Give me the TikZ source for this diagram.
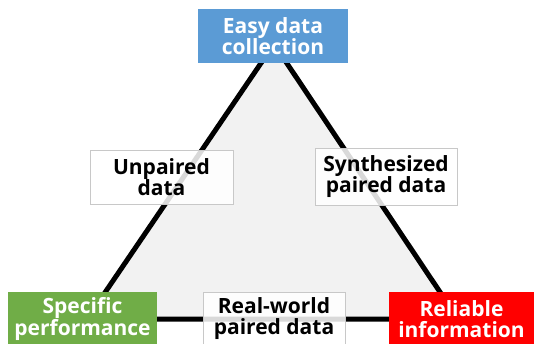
\documentclass[tikz,border=0pt]{standalone}
\usepackage{fontspec}
\setmainfont{Open Sans}
\definecolor{topblue}{HTML}{5B9BD5}
\definecolor{leafgreen}{HTML}{70AD47}
\definecolor{alertred}{HTML}{FF0000}
\definecolor{trifill}{HTML}{F2F2F2}
\definecolor{boxedge}{HTML}{C8C8C8}
\begin{document}
\begin{tikzpicture}[x=1pt,y=-1pt,
  corner/.style={draw=none, fill=#1, text=white, inner sep=0pt, align=center,
    font=\fontsize{21}{21}\selectfont\bfseries},
  tag/.style={draw=boxedge, line width=0.8pt, fill=white, fill opacity=0.85, text opacity=1,
    text=black, inner sep=0pt, align=center,
    font=\fontsize{21}{21}\selectfont\bfseries},
  edge/.style={line width=5pt, line join=round}]
\useasboundingbox (0,0) rectangle (534,344);
% triangle corners
\coordinate (apex) at (274,44);
\coordinate (bl) at (87,319);
\coordinate (br) at (458,319);
\filldraw[fill=trifill, draw=black, edge] (apex) -- (bl) -- (br) -- cycle;
% corner boxes
\node[corner=topblue, minimum width=150pt, minimum height=54pt] (easy) at (273,36) {Easy data\\collection};
\node[corner=leafgreen, minimum width=149pt, minimum height=54pt] (spec) at (82.5,319) {Specific\\performance};
\node[corner=alertred, minimum width=145pt, minimum height=54pt] (reli) at (461.5,319) {Reliable\\information};
% trade-off labels on the sides
\node[tag, minimum width=143pt, minimum height=54pt] (unp) at (161.5,177) {Unpaired\\data};
\node[tag, minimum width=142pt, minimum height=57pt] (syn) at (386,176.5) {Synthesized\\paired data};
\node[tag, minimum width=142pt, minimum height=54pt] (real) at (274,319) {Real-world\\paired data};
\end{tikzpicture}
\end{document}
